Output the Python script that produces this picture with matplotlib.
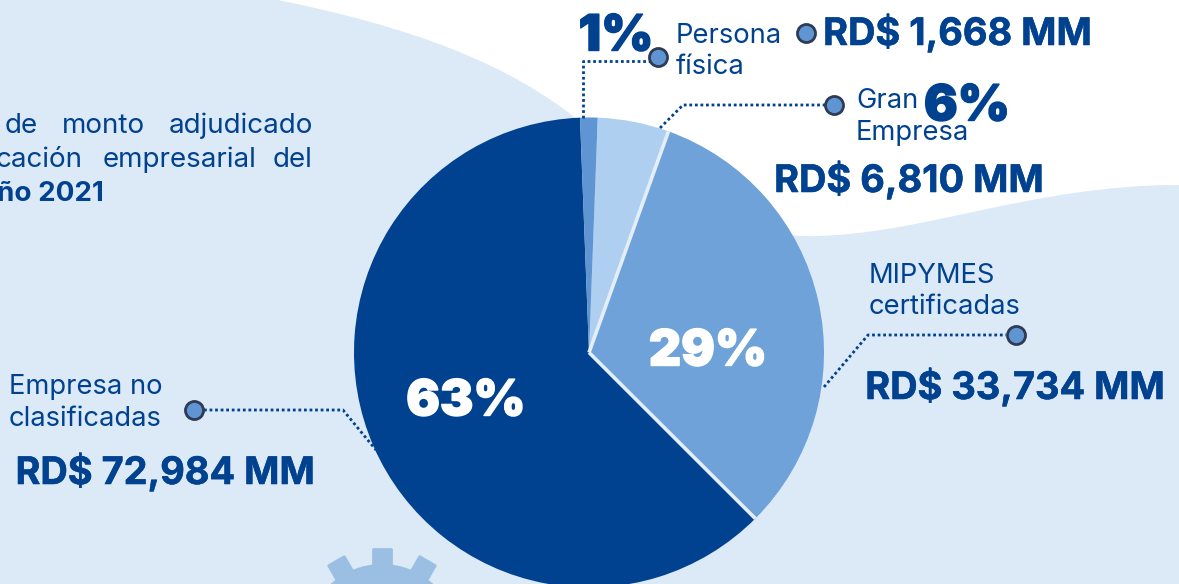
import numpy as np
import matplotlib
matplotlib.use("Agg")
import matplotlib.pyplot as plt
import matplotlib.patheffects as pe
from matplotlib.path import Path
from matplotlib.patches import PathPatch, Circle, Polygon

# Data
slice_names = ["Empresa no clasificadas", "MIPYMES certificadas", "Gran Empresa", "Persona física"]
slice_shares = [61.9, 32.0, 4.9, 1.2]   # drawn share of each wedge
slice_colors = ["#00428F", "#6FA2D9", "#AFCFF0", "#5F95D2"]
pct_labels = ["63%", "29%", "6%", "1%"]
amount_labels = ["RD$ 72,984 MM", "RD$ 33,734 MM", "RD$ 6,810 MM", "RD$ 1,668 MM"]

DARK = "#00428F"
PALE = "#DCE9F7"
GEAR = "#9BBFE2"
DOT_FILL = "#5F95D2"
DOT_EDGE = "#2E3B55"
FONT = "Inter"

fig = plt.figure(figsize=(11.79, 5.84), dpi=100, facecolor="white")
ax = fig.add_axes([0, 0, 1, 1])

# Pale background
verts = [(0, 0), (278, 0),
         (400, 25), (510, 60), (590, 130),
         (660, 190), (720, 236), (810, 236),
         (920, 236), (1030, 185), (1179, 185),
         (1179, 584), (0, 584), (0, 0)]
codes = [Path.MOVETO, Path.LINETO,
         Path.CURVE4, Path.CURVE4, Path.CURVE4,
         Path.CURVE4, Path.CURVE4, Path.CURVE4,
         Path.CURVE4, Path.CURVE4, Path.CURVE4,
         Path.LINETO, Path.LINETO, Path.CLOSEPOLY]
ax.add_patch(PathPatch(Path(verts, codes), fc=PALE, ec="none", zorder=1))

# Gear, clipped by the figure edge
gc = (382, 640)
ax.add_patch(Circle(gc, 76, fc=GEAR, ec="none", zorder=2))
for a in (-30, 0, 30):
    t = np.deg2rad(a)
    u = np.array([np.sin(t), -np.cos(t)])
    n = np.array([np.cos(t), np.sin(t)])
    c = np.array(gc)
    pts = [c + u * 70 - n * 9, c + u * 91 - n * 9, c + u * 91 + n * 9, c + u * 70 + n * 9]
    ax.add_patch(Polygon(pts, closed=True, fc=GEAR, ec=GEAR, lw=2, joinstyle="round", zorder=2))

# Pie (y axis runs downward, so clockwise in data is counter-clockwise on screen)
cx, cy, r = 589, 352.5, 235
wedges, _ = ax.pie(slice_shares, colors=slice_colors, startangle=-92.2, counterclock=False,
                   center=(cx, cy), radius=r, frame=True, explode=[0, 0.012, 0, 0],
                   wedgeprops=dict(linewidth=0, zorder=3))
for w in wedges:
    w.set_zorder(3)

# Pale separators on both sides of the MIPYMES wedge
mip = wedges[1]
mx, my = mip.center
for theta in (mip.theta1, mip.theta2):
    t = np.deg2rad(theta)
    ax.plot([mx, mx + r * np.cos(t)], [my, my + r * np.sin(t)], color="#E4EEF9", lw=2.6,
            solid_capstyle="butt", zorder=4)

ax.set_xlim(0, 1179)
ax.set_ylim(584, 0)
ax.set_aspect("auto")
ax.axis("off")

# Leader lines and dots
leaders = [
    [(583, 118), (583, 61), (650, 61)],
    [(660, 128), (683, 105), (826, 105)],
    [(824, 387), (868, 335), (1006, 335)],
    [(204, 410), (343, 410), (376, 450)],
]
for path in leaders:
    xs, ys = zip(*path)
    ax.plot(xs, ys, color=DARK, lw=2, ls=(0, (1, 1)), zorder=5)
for (x, y) in [(658, 57), (806, 33), (834, 105), (1016, 335), (194, 410)]:
    ax.plot([x], [y], "o", ms=13, mfc=DOT_FILL, mec=DOT_EDGE, mew=2, zorder=6)

def put(x, y, s, size, weight="normal", color=DARK, ha="left", stroke=0):
    t = ax.text(x, y, s, fontsize=size, fontweight=weight, color=color, ha=ha, va="center_baseline",
                family=FONT, zorder=7, clip_on=True)
    if stroke:
        t.set_path_effects([pe.withStroke(linewidth=stroke, foreground=color)])

# Amounts
amount_size = 27.3
put(1092, 29, amount_labels[3], amount_size, "bold", ha="right", stroke=0.4)
put(1044, 176, amount_labels[2], amount_size, "bold", ha="right", stroke=0.4)
put(1165, 383, amount_labels[1], amount_size, "bold", ha="right", stroke=0.4)
put(315, 468, amount_labels[0], amount_size, "bold", ha="right", stroke=0.4)

# Percentages
put(616, 32, pct_labels[3], 36, "black", ha="center", stroke=1.0)
put(967, 102, pct_labels[2], 36, "black", ha="center", stroke=1.0)
put(708, 347, pct_labels[1], 36, "black", color="white", ha="center", stroke=1.0)
put(466, 397, pct_labels[0], 36, "black", color="white", ha="center", stroke=1.0)

# Category labels
label_size = 19.7
put(676, 33, "Persona", label_size)
put(676, 64, "física", label_size)
put(856, 98, "Gran", label_size)
put(856, 130, "Empresa", label_size)
put(869, 273, "MIPYMES", label_size)
put(869, 304, "certificadas", label_size)
put(9, 384, "Empresa no", label_size)
put(9, 416, "clasificadas", label_size)

# Cropped paragraph at the left edge
intro_size = 20
put(38, 123, "de", intro_size, ha="right")
put(62, 123, "monto", intro_size)
put(313, 123, "adjudicado", intro_size, ha="right")
put(83, 157, "cación", intro_size, ha="right")
put(103, 157, "empresarial", intro_size)
put(313, 157, "del", intro_size, ha="right")
put(104, 191, "ño 2021", intro_size, "bold", ha="right")

fig.savefig("out.png", dpi=100)
